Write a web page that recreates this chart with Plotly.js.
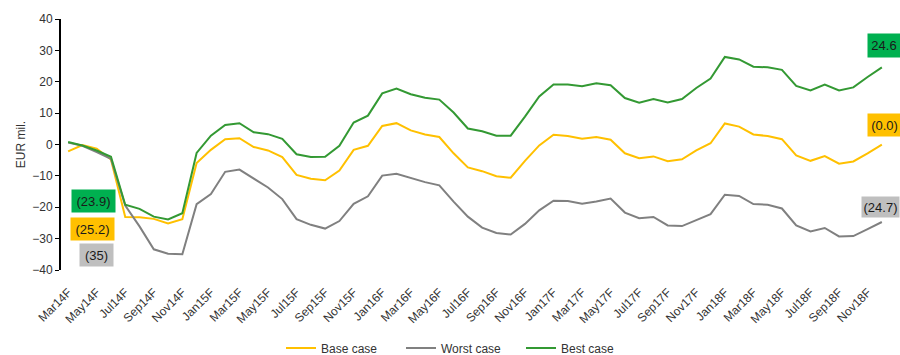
<!DOCTYPE html>
<html>
<head>
<meta charset="utf-8">
<script src="https://cdn.plot.ly/plotly-3.0.1.min.js"></script>
<style>html,body{margin:0;padding:0;background:#fff;}#chart{width:900px;height:355px;}</style>
</head>
<body>
<div id="chart"></div>
<script>
const categories = ["Mar14F","Apr14F","May14F","Jun14F","Jul14F","Aug14F","Sep14F","Oct14F","Nov14F","Dec14F",
  "Jan15F","Feb15F","Mar15F","Apr15F","May15F","Jun15F","Jul15F","Aug15F","Sep15F","Oct15F","Nov15F","Dec15F",
  "Jan16F","Feb16F","Mar16F","Apr16F","May16F","Jun16F","Jul16F","Aug16F","Sep16F","Oct16F","Nov16F","Dec16F",
  "Jan17F","Feb17F","Mar17F","Apr17F","May17F","Jun17F","Jul17F","Aug17F","Sep17F","Oct17F","Nov17F","Dec17F",
  "Jan18F","Feb18F","Mar18F","Apr18F","May18F","Jun18F","Jul18F","Aug18F","Sep18F","Oct18F","Nov18F","Dec18F"];
const tickLabels = ["Mar14F","May14F","Jul14F","Sep14F","Nov14F","Jan15F","Mar15F","May15F","Jul15F","Sep15F","Nov15F",
  "Jan16F","Mar16F","May16F","Jul16F","Sep16F","Nov16F","Jan17F","Mar17F","May17F","Jul17F","Sep17F","Nov17F",
  "Jan18F","Mar18F","May18F","Jul18F","Sep18F","Nov18F"];
const baseCase = [-2.2,-0.2,-1.3,-4.8,-23.1,-23.2,-23.7,-25.2,-23.8,-5.9,
  -1.7,1.7,2.0,-0.8,-1.9,-4.0,-9.7,-10.9,-11.4,-8.3,
  -1.7,-0.4,5.9,6.8,4.5,3.2,2.4,-2.8,-7.3,-8.5,
  -10.1,-10.6,-5.2,-0.3,3.1,2.7,1.8,2.4,1.5,-2.8,
  -4.4,-3.8,-5.3,-4.7,-1.9,0.4,6.7,5.7,3.2,2.7,
  1.7,-3.5,-5.2,-3.7,-6.1,-5.4,-2.8,-0.04];
const worstCase = [0.6,-0.4,-2.4,-4.6,-19.5,-26.1,-33.4,-34.8,-35.0,-19.0,
  -15.8,-8.7,-8.0,-10.9,-13.7,-17.4,-23.8,-25.6,-26.8,-24.4,
  -18.9,-16.5,-9.9,-9.3,-10.6,-12.0,-13.0,-18.2,-23.0,-26.5,
  -28.2,-28.7,-25.3,-21.0,-17.9,-18.0,-18.9,-18.2,-17.2,-21.7,
  -23.5,-23.1,-25.8,-26.0,-24.1,-22.2,-16.0,-16.4,-19.0,-19.2,
  -20.4,-25.8,-27.7,-26.6,-29.3,-29.2,-27.0,-24.7];
const bestCase = [0.8,-0.3,-1.9,-3.9,-19.2,-20.5,-23.0,-23.9,-21.9,-2.7,
  2.8,6.2,6.8,3.9,3.3,1.8,-3.1,-4.0,-3.9,-0.4,
  7.0,9.2,16.3,17.8,16.0,14.9,14.3,10.2,5.1,4.2,
  2.8,2.8,8.9,15.3,19.1,19.1,18.6,19.5,18.9,14.8,
  13.3,14.5,13.4,14.5,18.0,21.0,27.9,27.1,24.8,24.6,
  23.8,18.7,17.2,19.1,17.2,18.2,21.5,24.6];
const yTicks = [-40,-30,-20,-10,0,10,20,30,40];

const FONT = "'Liberation Sans',Arial,sans-serif";
const TXT = '#333333';

const traces = [
  {x: categories, y: baseCase, name: 'Base case', type: 'scatter', mode: 'lines',
   line: {color: '#FFC000', width: 2}},
  {x: categories, y: worstCase, name: 'Worst case', type: 'scatter', mode: 'lines',
   line: {color: '#808080', width: 2}},
  {x: categories, y: bestCase, name: 'Best case', type: 'scatter', mode: 'lines',
   line: {color: '#339933', width: 2}}
];

function boxNote(x, y, text, bg, w, h) {
  return {xref: 'paper', yref: 'paper', x: x, y: y, xanchor: 'center', yanchor: 'middle',
    text: text, showarrow: false, bgcolor: bg, width: w, height: h, borderpad: 0,
    font: {family: FONT, size: 13, color: '#1a1a1a'}};
}

const layout = {
  width: 900, height: 355,
  margin: {l: 61, r: 11, t: 19, b: 85, autoexpand: false},
  paper_bgcolor: '#ffffff', plot_bgcolor: '#ffffff',
  font: {family: FONT, size: 12, color: TXT},
  showlegend: true,
  legend: {orientation: 'h', xref: 'container', yref: 'container',
    x: 281 / 900, xanchor: 'left', y: 1 - 348 / 355, yanchor: 'middle',
    entrywidth: 75, entrywidthmode: 'pixels',
    font: {family: FONT, size: 12, color: TXT}, traceorder: 'normal'},
  xaxis: {type: 'category', categoryarray: categories, categoryorder: 'array',
    range: [-0.5, categories.length - 0.5], automargin: false,
    tickmode: 'array', tickvals: tickLabels, ticktext: tickLabels, tickangle: -45,
    showline: false, showgrid: false, zeroline: false, ticks: '',
    ticklabelstandoff: 12,
    tickfont: {family: FONT, size: 12, color: TXT}},
  xaxis2: {overlaying: 'x', anchor: 'y2', side: 'bottom', type: 'linear',
    range: [-0.5, categories.length - 0.5], tick0: -0.5, dtick: 1,
    showticklabels: false, ticks: 'outside', ticklen: 4, tickwidth: 1, tickcolor: '#000',
    showline: true, linecolor: '#000', linewidth: 2, showgrid: false, zeroline: false, fixedrange: true},
  yaxis: {range: [-40, 40], tickmode: 'array', tickvals: yTicks, automargin: false,
    ticks: 'outside', ticklen: 4, tickwidth: 1, tickcolor: '#000',
    showline: true, linecolor: '#000', linewidth: 2, showgrid: false, zeroline: false,
    tickfont: {family: FONT, size: 12, color: TXT},
    title: {text: 'EUR mil.', font: {family: FONT, size: 12, color: TXT}, standoff: 4}},
  yaxis2: {domain: [0.5, 1], anchor: 'x2', range: [0, 1], visible: false, fixedrange: true},
  annotations: [
    boxNote(0.0393, 0.275, '(23.9)', '#00B050', 43, 22),
    boxNote(0.038, 0.163, '(25.2)', '#FFC000', 43, 22),
    boxNote(0.0423, 0.0586, '(35)', '#BFBFBF', 33, 22),
    boxNote(0.994, 0.896, '24.6', '#00B050', 32, 23),
    boxNote(0.994, 0.578, '(0.0)', '#FFC000', 33, 22),
    boxNote(0.990, 0.251, '(24.7)', '#BFBFBF', 37, 20)
  ]
};

Plotly.newPlot('chart', traces, layout, {staticPlot: true, displayModeBar: false});
</script>
</body>
</html>
